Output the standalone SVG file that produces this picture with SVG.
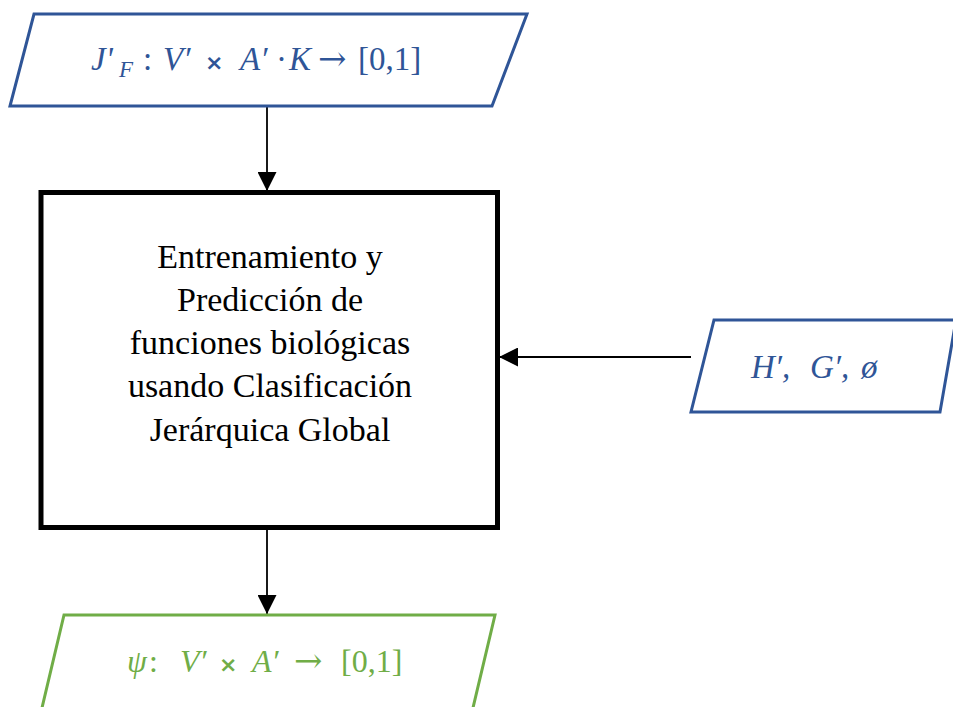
<svg xmlns="http://www.w3.org/2000/svg" width="953" height="707" viewBox="0 0 953 707">
<style>
.blue{fill:#fff;stroke:#2F5597;stroke-width:3}
.green{fill:#fff;stroke:#70AD47;stroke-width:3}
.box{fill:#fff;stroke:#000;stroke-width:5}
.conn{stroke:#000;stroke-width:1.8;fill:none}
text{font-family:'Liberation Serif','DejaVu Serif',serif}
.bt{fill:#2F5597;font-size:33px}
.gt{fill:#70AD47;font-size:32px}
.kt{fill:#000;font-size:34px;text-anchor:middle}
.i{font-style:italic}
.x{font-family:'DejaVu Sans',sans-serif;font-weight:bold;font-size:22px;font-style:normal}
.ar{font-family:'DejaVu Serif',serif;font-size:34px;font-style:normal}
</style>
<defs>
<marker id="ah" viewBox="0 0 10 10" refX="10" refY="5" markerWidth="19" markerHeight="19" markerUnits="userSpaceOnUse" orient="auto">
<path d="M0,0 L10,5 L0,10 Z" fill="#000"/>
</marker>
</defs>
<rect width="953" height="707" fill="#fff"/>
<g id="connectors">
<line class="conn" x1="267" y1="106" x2="267" y2="191" marker-end="url(#ah)"/>
<line class="conn" x1="691" y1="357" x2="499" y2="357" marker-end="url(#ah)"/>
<line class="conn" x1="267" y1="530" x2="267" y2="614" marker-end="url(#ah)"/>
</g>
<g id="input-j">
<polygon class="blue" points="34,14 527,14 492,106 10,106"/>
<text class="bt" y="70"><tspan class="i" x="91">J'</tspan><tspan class="i" x="119" font-size="23" dy="7">F</tspan><tspan x="143" dy="-7">:</tspan><tspan class="i" x="163">V′</tspan><tspan class="x" x="205">×</tspan><tspan class="i" x="240">A′</tspan><tspan x="276">·</tspan><tspan class="i" x="289">K</tspan><tspan class="ar" x="318">→</tspan><tspan x="358">[0,1]</tspan></text>
</g>
<g id="process">
<rect class="box" x="41" y="192.5" width="456.5" height="335"/>
<text class="kt" x="270" y="268">Entrenamiento y</text>
<text class="kt" x="270" y="311">Predicción de</text>
<text class="kt" x="270" y="354">funciones biológicas</text>
<text class="kt" x="270" y="397">usando Clasificación</text>
<text class="kt" x="270" y="441">Jerárquica Global</text>
</g>
<g id="input-h">
<polygon class="blue" points="714,320 956,320 940,412 691,412"/>
<text class="bt i" y="378" font-size="36"><tspan x="751">H′,</tspan><tspan x="810">G′,</tspan><tspan x="861">ø</tspan></text>
</g>
<g id="output-psi">
<polygon class="green" points="64,615 495,615 472,712 41,712"/>
<text class="gt" y="672"><tspan class="i" x="127">ψ</tspan><tspan x="149">:</tspan><tspan class="i" x="180">V′</tspan><tspan class="x" x="219">×</tspan><tspan class="i" x="252">A′</tspan><tspan class="ar" x="294">→</tspan><tspan x="341">[0,1]</tspan></text>
</g>
</svg>
